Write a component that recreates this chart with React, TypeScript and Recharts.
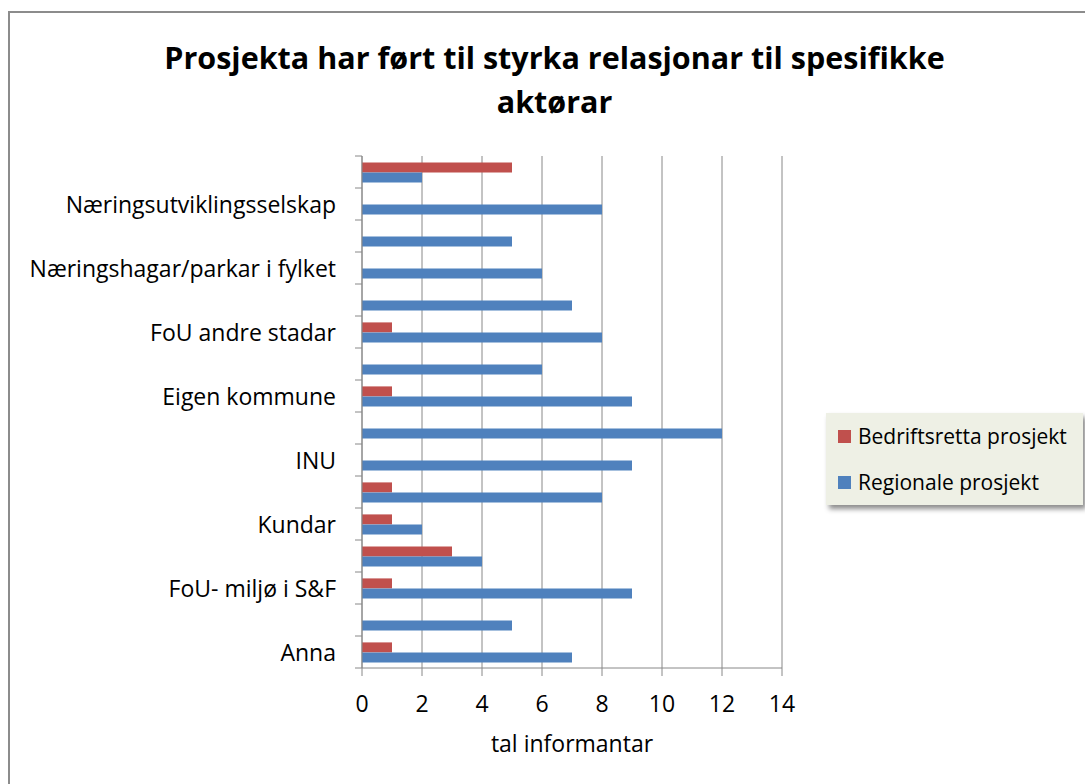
import React from 'react';
import { BarChart, Bar, XAxis, YAxis, CartesianGrid, Legend } from 'recharts';

const categories: string[] = [
  '',
  'Næringsutviklingsselskap',
  '',
  'Næringshagar/parkar i fylket',
  '',
  'FoU andre stadar',
  '',
  'Eigen kommune',
  '',
  'INU',
  '',
  'Kundar',
  '',
  'FoU- miljø i S&F',
  '',
  'Anna',
];
const bedriftsretta: number[] = [5, 0, 0, 0, 0, 1, 0, 1, 0, 0, 1, 1, 3, 1, 0, 1];
const regionale: number[] = [2, 8, 5, 6, 7, 8, 6, 9, 12, 9, 8, 2, 4, 9, 5, 7];
const xTicks: number[] = [0, 2, 4, 6, 8, 10, 12, 14];

const seriesNames = ['Bedriftsretta prosjekt', 'Regionale prosjekt'];
const colors = ['#C0504D', '#4F81BD'];
const titleLines = ['Prosjekta har ført til styrka relasjonar til spesifikke', 'aktørar'];
const xLabel = 'tal informantar';

const data = categories.map((c, i) => ({
  key: i,
  label: c,
  bed: bedriftsretta[i],
  reg: regionale[i],
}));

const FONT = '"Open Sans", sans-serif';
const AXIS = '#888888';

const YTick = (props: any) => {
  const { x, y, payload, index, visibleTicksCount } = props;
  const half = payload && payload.offset ? payload.offset : 16;
  const label = categories[payload.value] ?? '';
  const ax = x + 26;
  const isLast = index === (visibleTicksCount ?? categories.length) - 1;
  return (
    <g>
      <line x1={ax - 7} x2={ax} y1={y - half} y2={y - half} stroke={AXIS} strokeWidth={1} />
      {isLast && <line x1={ax - 7} x2={ax} y1={y + half} y2={y + half} stroke={AXIS} strokeWidth={1} />}
      {label && (
        <text x={x} y={y} textAnchor="end" dominantBaseline="central" fontFamily={FONT} fontSize={23} fill="#000">
          {label}
        </text>
      )}
    </g>
  );
};

const LegendBox = () => (
  <div
    style={{
      width: 257,
      height: 92,
      background: '#EEF0E5',
      boxShadow: '3px 4px 5px rgba(0,0,0,0.45)',
      boxSizing: 'border-box',
      paddingLeft: 12,
      fontFamily: FONT,
      fontSize: 21,
      color: '#000',
    }}
  >
    {seriesNames.map((n, i) => (
      <div key={n} style={{ display: 'flex', alignItems: 'center', height: 46 }}>
        <span style={{ display: 'inline-block', width: 13, height: 13, background: colors[i], marginRight: 7 }} />
        <span style={{ whiteSpace: 'nowrap' }}>{n}</span>
      </div>
    ))}
  </div>
);

export default function App() {
  return (
    <div style={{ position: 'absolute', left: 0, top: 0, width: 1085, height: 784, overflow: 'hidden', background: '#fff' }}>
      <div
        style={{
          position: 'absolute',
          left: 8,
          top: 11,
          width: 1200,
          height: 900,
          border: '2px solid #8c8c8c',
        }}
      />
      <div
        style={{
          position: 'absolute',
          left: 0,
          top: 35,
          width: 1109,
          textAlign: 'center',
          fontFamily: FONT,
          fontWeight: 'bold',
          fontSize: 30.5,
          lineHeight: '44px',
          color: '#000',
        }}
      >
        {titleLines.map((t) => (
          <div key={t}>{t}</div>
        ))}
      </div>
      <div style={{ position: 'absolute', left: 0, top: 0 }}>
        <BarChart
          width={1085}
          height={784}
          data={data}
          layout="vertical"
          margin={{ top: 156, right: 303, bottom: 26, left: 0 }}
          barCategoryGap="20%"
          barGap={0}
        >
          <CartesianGrid horizontal={false} vertical={true} stroke={AXIS} strokeWidth={1} />
          <XAxis
            type="number"
            domain={[0, 14]}
            ticks={xTicks}
            interval={0}
            height={90}
            tickSize={8}
            tickMargin={20}
            stroke={AXIS}
            tick={{ fill: '#000', fontFamily: FONT, fontSize: 23 }}
            label={{ value: xLabel, position: 'insideBottom', offset: 6, fill: '#000', fontFamily: FONT, fontSize: 23 }}
          />
          <YAxis
            type="category"
            dataKey="key"
            width={362}
            interval={0}
            tickSize={7}
            tickMargin={19}
            tickLine={false}
            stroke={AXIS}
            tick={<YTick />}
          />
          <Legend
            layout="vertical"
            align="center"
            verticalAlign="middle"
            wrapperStyle={{ position: 'absolute', left: 826, top: 413, width: 257, height: 92 }}
            content={<LegendBox />}
          />
          <Bar dataKey="bed" name={seriesNames[0]} fill={colors[0]} isAnimationActive={false} />
          <Bar dataKey="reg" name={seriesNames[1]} fill={colors[1]} isAnimationActive={false} />
        </BarChart>
      </div>
    </div>
  );
}
